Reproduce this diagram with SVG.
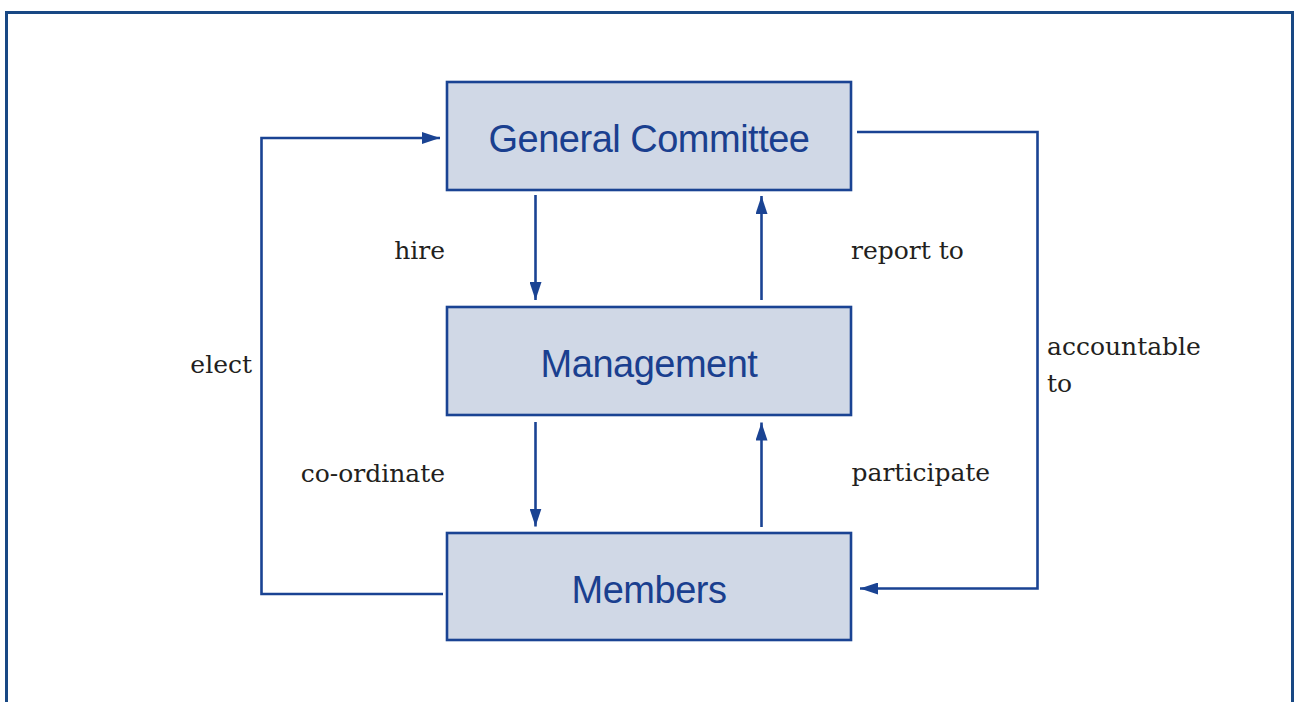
<svg xmlns="http://www.w3.org/2000/svg" width="1294" height="702" viewBox="0 0 1294 702">
<style>
.frame{fill:none;stroke:#184884;stroke-width:3}
.box{fill:#d0d8e6;stroke:#1a4393;stroke-width:2.6}
.ttl{font-family:"Liberation Sans",Arial,sans-serif;font-size:38px;letter-spacing:-0.5px;fill:#1a3f8f;text-anchor:middle}
.lbl{font-family:"DejaVu Serif",serif;font-size:25px;fill:#231f20}
.conn{fill:none;stroke:#1a4393;stroke-width:2.6}
</style>
<defs>
<marker id="ah" viewBox="0 0 18 12" refX="18" refY="6" markerWidth="18" markerHeight="12" markerUnits="userSpaceOnUse" orient="auto">
<path d="M0,0 L18,6 L0,12 Z" fill="#1a4393"/>
</marker>
</defs>
<rect class="frame" x="6.5" y="12.5" width="1286" height="700"/>
<g id="connectors">
<path class="conn" d="M443,594 H261.5 V138 H440" marker-end="url(#ah)"/>
<path class="conn" d="M857,132 H1037.5 V588.5 H860" marker-end="url(#ah)"/>
<path class="conn" d="M535.5,195 V300" marker-end="url(#ah)"/>
<path class="conn" d="M761.5,300 V196" marker-end="url(#ah)"/>
<path class="conn" d="M535.5,422 V526.5" marker-end="url(#ah)"/>
<path class="conn" d="M761.5,527 V422.5" marker-end="url(#ah)"/>
</g>
<g id="labels">
<text class="lbl" x="445" y="259" text-anchor="end">hire</text>
<text class="lbl" x="851" y="259">report to</text>
<text class="lbl" x="252" y="373" text-anchor="end">elect</text>
<text class="lbl" x="445" y="481.5" text-anchor="end">co-ordinate</text>
<text class="lbl" x="851.5" y="481">participate</text>
<text class="lbl" x="1047" y="355">accountable</text>
<text class="lbl" x="1047" y="391.5">to</text>
</g>
<g id="general-committee">
<rect class="box" x="447" y="82" width="404" height="108"/>
<text class="ttl" x="649" y="151.5">General Committee</text>
</g>
<g id="management">
<rect class="box" x="447" y="307" width="404" height="108"/>
<text class="ttl" x="649" y="376.5">Management</text>
</g>
<g id="members">
<rect class="box" x="447" y="533" width="404" height="107"/>
<text class="ttl" x="649" y="602.5">Members</text>
</g>
</svg>
